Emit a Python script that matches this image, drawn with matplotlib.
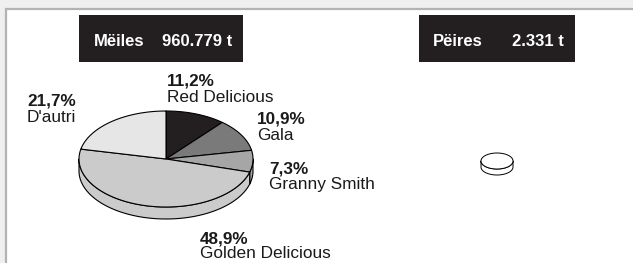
import numpy as np
import matplotlib
matplotlib.use("Agg")
import matplotlib.pyplot as plt
from matplotlib.patches import Polygon, Rectangle

plt.rcParams['font.family'] = ['Liberation Sans', 'DejaVu Sans']

# apples (Mëiles) - share of total in %
apple_names = ["Red Delicious", "Gala", "Granny Smith", "Golden Delicious", "D'autri"]
apple_shares = [11.2, 10.9, 7.3, 48.9, 21.7]
apple_colors = ["#231f20", "#7a7a7b", "#a6a6a6", "#cbcbcb", "#e6e6e7"]
# pears (Pëires) - one single slice
pear_shares = [100.0]
pear_colors = ["#ffffff"]

titles = ["Mëiles", "Pëires"]
totals = [960779, 2331]

# label anchors (pixel coords of left/baseline of the percentage line)
label_pos = [(167, 86), (257, 124), (269, 174), (200, 243), (27, 106)]


def fmt_total(v):
    return "{:,}".format(v).replace(",", ".") + " t"


def fmt_pct(v):
    return ("%.1f" % v).replace(".", ",") + "%"


def pie3d(ax, shares, colors, cx, cy, rx, ry, depth, lw=0.8):
    total = float(sum(shares))
    bounds = np.cumsum([0] + list(shares)) / total
    # angles in degrees, clockwise from 12 o'clock
    angles = 90 - 360 * bounds

    def pt(t, dy=0):
        t = np.radians(t)
        return np.column_stack([cx + rx * np.cos(t), cy - ry * np.sin(t) + dy])

    # side walls (front half only: angles between 180 and 360)
    for i in range(len(shares)):
        a1, a2 = angles[i + 1], angles[i]  # a1 < a2
        for k in range(-1, 2):
            lo = max(a1, 180 + 360 * k)
            hi = min(a2, 360 + 360 * k)
            if lo >= hi:
                continue
            t = np.linspace(lo, hi, 80)
            top = pt(t)
            bot = pt(t[::-1], depth)
            ax.add_patch(Polygon(np.vstack([top, bot]), closed=True,
                                 facecolor=colors[i], edgecolor="black",
                                 linewidth=lw, joinstyle="round"))
    # top faces
    for i in range(len(shares)):
        t = np.linspace(angles[i], angles[i + 1], 200)
        arc = pt(t)
        if len(shares) > 1:
            arc = np.vstack([[cx, cy], arc])
        ax.add_patch(Polygon(arc, closed=True, facecolor=colors[i],
                             edgecolor="black", linewidth=lw, joinstyle="round"))


fig = plt.figure(figsize=(6.33, 2.63), dpi=100)
fig.patch.set_facecolor("#efefef")
ax = fig.add_axes([0, 0, 1, 1])
ax.set_xlim(0, 633)
ax.set_ylim(263, 0)
ax.axis("off")

# white panel with grey border on top and left
ax.add_patch(Rectangle((5.5, 8.5), 640, 300, facecolor="white",
                       edgecolor="#b3b3b3", linewidth=1.6))

# title boxes
boxes = [(79, 15, 164, 47), (419, 15, 156, 47)]
for (bx, by, bw, bh), name, tot in zip(boxes, titles, totals):
    ax.add_patch(Rectangle((bx, by), bw, bh, facecolor="#231f20", edgecolor="none"))
    ax.text(bx + 15 if name == titles[0] else bx + 14, by + 26, name,
            color="white", fontsize=12, fontweight="bold", ha="left", va="center")
    ax.text(bx + bw - 11, by + 26, fmt_total(tot),
            color="white", fontsize=12, fontweight="bold", ha="right", va="center")

pie3d(ax, apple_shares, apple_colors, 166, 159, 87, 48, 12)
pie3d(ax, pear_shares, pear_colors, 497, 161, 16, 8, 6, lw=0.7)

for name, share, (lx, ly) in zip(apple_names, apple_shares, label_pos):
    ax.text(lx, ly, fmt_pct(share), fontsize=12.3, fontweight="bold",
            color="#1a1a1a", ha="left", va="baseline")
    ax.text(lx, ly + 15.5, name, fontsize=12.4, color="#1a1a1a",
            ha="left", va="baseline")

fig.savefig("out.png", dpi=100, facecolor=fig.get_facecolor())
